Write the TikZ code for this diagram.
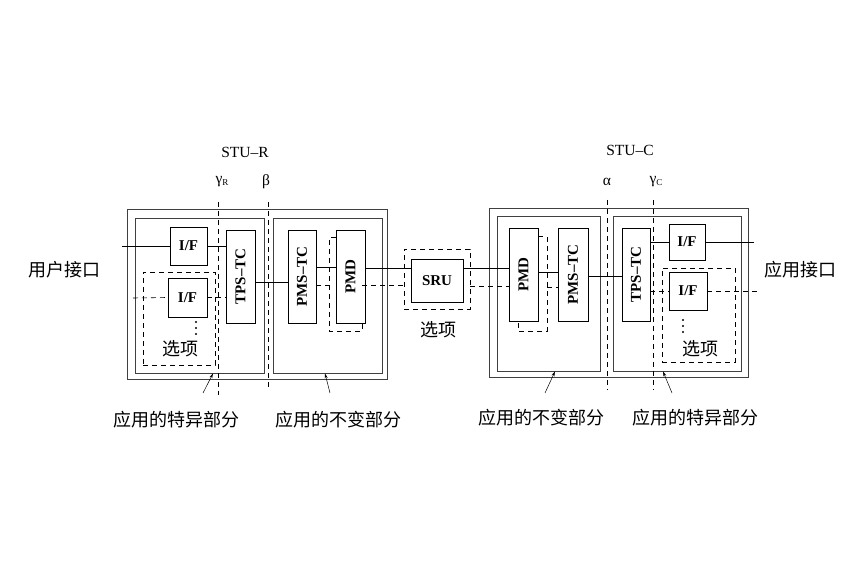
\documentclass[tikz,border=0pt]{standalone}
\usepackage{fontspec}
\usepackage{graphicx}
\setmainfont{Liberation Serif}
\newfontfamily\cjk{Noto Sans CJK SC}
\usetikzlibrary{arrows.meta,positioning,calc}

\begin{document}
\begin{tikzpicture}[x=1pt, y=-1pt, line width=0.6pt,
    blk/.style={draw, inner sep=0pt, font=\bfseries\fontsize{15}{15}\selectfont},
    frame/.style={draw=black!75, line width=0.9pt, inner sep=0pt},
    opt/.style={draw, dash pattern=on 5pt off 4pt, inner sep=0pt},
    dsh/.style={dash pattern=on 5pt off 4pt},
    cn/.style={font=\cjk\fontsize{18}{18}\selectfont},
    lbl/.style={font=\fontsize{15.5}{15.5}\selectfont},
    ptr/.style={-{Stealth[length=5pt,width=3pt]}, line width=0.5pt}]
    \useasboundingbox (0,0) rectangle (857,585);

    % STU-R
    \node[frame, minimum width=260, minimum height=170] (outR) at (257,294) {};
    \node[frame, minimum width=129, minimum height=155] (inR1) at (199.5,295.5) {};
    \node[frame, minimum width=109, minimum height=155] (inR2) at (327.5,295.5) {};
    \node[opt, minimum width=72, minimum height=93] (optR) at (179,318.5) {};
    \node[blk, minimum width=37, minimum height=38] (ifR1) at (188.5,246) {I/F};
    \node[blk, fill=white, minimum width=39, minimum height=39] (ifR2) at (187.5,297.5) {I/F};
    \node[blk, minimum width=29, minimum height=93] (tpsR) at (240.5,276.5) {\rotatebox{90}{TPS--TC}};
    \node[blk, minimum width=28, minimum height=93] (pmsR) at (302,276.5) {\rotatebox{90}{PMS--TC}};
    \node[blk, minimum width=29, minimum height=93] (pmdR) at (350.5,276.5) {\rotatebox{90}{PMD}};
    \foreach \dy in {322,328,334} \fill (196,\dy) circle (1.1pt);
    \node[cn] (selR) at (180,349) {选项};

    % SRU
    \node[opt, minimum width=66, minimum height=60] (sruOpt) at (437,279) {};
    \node[blk, minimum width=52, minimum height=43] (sru) at (437,280.5) {SRU};
    \node[cn] (selS) at (438,330) {选项};

    % STU-C
    \node[frame, minimum width=259, minimum height=169] (outC) at (618.5,292.5) {};
    \node[frame, minimum width=103, minimum height=155] (inC1) at (548.5,293.5) {};
    \node[frame, minimum width=128, minimum height=155] (inC2) at (677,293.5) {};
    \node[opt, minimum width=73, minimum height=94] (optC) at (698.5,315) {};
    \node[blk, minimum width=29, minimum height=93] (pmdC) at (523.5,274.5) {\rotatebox{90}{PMD}};
    \node[blk, minimum width=30, minimum height=93] (pmsC) at (573,274.5) {\rotatebox{90}{PMS--TC}};
    \node[blk, minimum width=28, minimum height=93] (tpsC) at (636,274.5) {\rotatebox{90}{TPS--TC}};
    \node[blk, minimum width=36, minimum height=36] (ifC1) at (687,242) {I/F};
    \node[blk, fill=white, minimum width=38, minimum height=38] (ifC2) at (688,291) {I/F};
    \foreach \dy in {320,326,332} \fill (683,\dy) circle (1.1pt);
    \node[cn] (selC) at (700,349) {选项};

    % reference points
    \node[lbl] (stuR) at (245,152) {STU--R};
    \node[lbl] (gR) at (222,182) {γ{\fontsize{9}{9}\selectfont\raisebox{-2pt}{R}}};
    \node[lbl] (bR) at (266,182) {β};
    \node[lbl] (stuC) at (630,150) {STU--C};
    \node[lbl] (aC) at (607,182) {α};
    \node[lbl] (gC) at (656,182) {γ{\fontsize{9}{9}\selectfont\raisebox{-2pt}{C}}};
    \draw[dsh, line width=0.5pt] (218,202) -- (218,395);
    \draw[dsh, line width=0.5pt] (268,202) -- (268,390);
    \draw[dsh, line width=0.5pt] (607,200) -- (607,390);
    \draw[dsh, line width=0.5pt] (653,200) -- (653,390);

    % interfaces
    \node[cn] (usr) at (64,270) {用户接口};
    \node[cn] (app) at (800,270) {应用接口};
    \coordinate (usrL) at (122,246);
    \coordinate (usrD) at (133,298);
    \coordinate (appL) at (754,242);
    \coordinate (appD) at (757,291);

    % backing PMD
    \draw[dsh] ($(pmdR.north west)+(0,8)$) -| (329,331) -| (pmdR.south -| 362,0);
    \draw[dsh] ($(pmdC.north east)+(0,9)$) -| (547,331) -| (pmdC.south -| 518,0);

    % connections
    \draw (usrL) -- (ifR1.west);
    \draw (ifR1.east) -- (tpsR.west |- ifR1.east);
    \draw[dsh] (usrD) -- (ifR2.west);
    \draw[dsh] (ifR2.east) -- (tpsR.west |- ifR2.east);
    \draw ($(tpsR.east)+(0,5.5)$) -- ($(pmsR.west)+(0,5.5)$);
    \draw ($(pmsR.east)+(0,-9.5)$) -- ($(pmdR.west)+(0,-9.5)$);
    \draw[dsh] ($(pmsR.east)+(0,8.5)$) -- ++(13,0);
    \draw ($(pmdR.east)+(0,-8.5)$) -- (sru.west |- 0,268);
    \draw[dsh] (362,285.5) -- (sruOpt.west |- 0,285.5);
    \draw (sru.east |- 0,268.5) -- ($(pmdC.west)+(0,-6)$);
    \draw[dsh] (sruOpt.east |- 0,286) -- (pmdC.west |- 0,286);
    \draw ($(pmdC.east)+(0,-2.5)$) -- ($(pmsC.west)+(0,-2.5)$);
    \draw[dsh] (547,287) -- (pmsC.west |- 0,287);
    \draw ($(pmsC.east)+(0,1.5)$) -- ($(tpsC.west)+(0,1.5)$);
    \draw (tpsC.east |- ifC1.west) -- (ifC1.west);
    \draw (ifC1.east) -- (appL);
    \draw[dsh] (tpsC.east |- ifC2.west) -- (ifC2.west);
    \draw[dsh] (ifC2.east) -- (appD);

    % bottom labels
    \node[cn] (spR) at (176,420) {应用的特异部分};
    \node[cn] (invR) at (338,420) {应用的不变部分};
    \node[cn] (invC) at (541,418) {应用的不变部分};
    \node[cn] (spC) at (695,418) {应用的特异部分};
    \coordinate (pSpR) at (203,393);
    \coordinate (pInvR) at (330,393);
    \coordinate (pInvC) at (545,393);
    \coordinate (pSpC) at (672,393);
    \draw[ptr] (pSpR) -- (inR1.south -| 213,0);
    \draw[ptr] (pInvR) -- (inR2.south -| 325,0);
    \draw[ptr] (pInvC) -- (inC1.south -| 555,0);
    \draw[ptr] (pSpC) -- (inC2.south -| 663,0);
\end{tikzpicture}
\end{document}
